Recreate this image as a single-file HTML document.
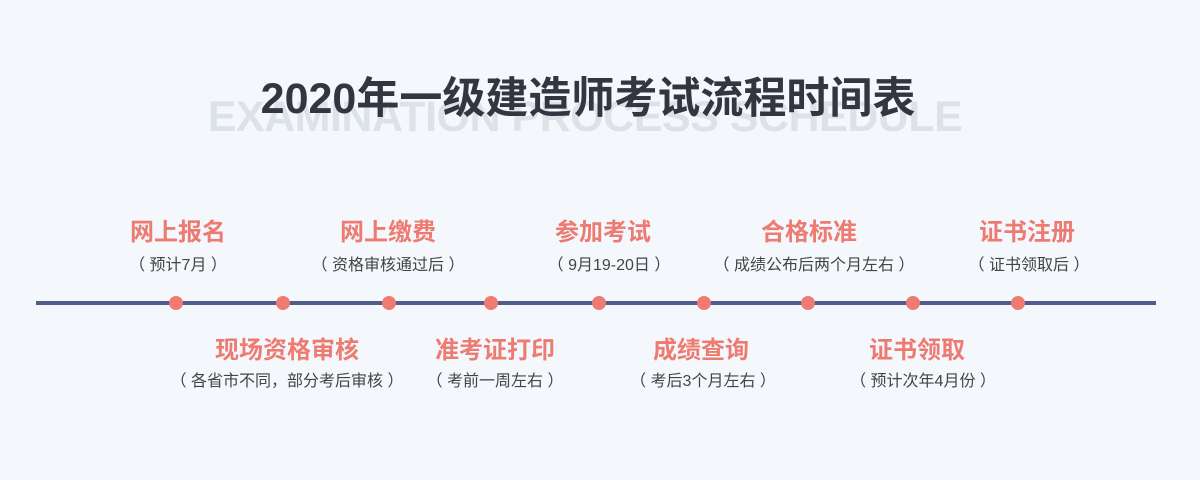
<!DOCTYPE html>
<html><head><meta charset="utf-8"><style>
body{margin:0;width:1200px;height:480px;background:#f4f8fd;position:relative;overflow:hidden;font-family:"Liberation Sans","Noto Sans CJK SC",sans-serif}
.c{position:absolute;transform:translateX(-50%);white-space:nowrap;line-height:1}
.ghost{left:585px;top:96px;font-size:43px;font-weight:bold;color:#dde2e9;letter-spacing:-0.5px}
.title{left:588px;top:78px;font-size:43px;font-weight:bold;color:#333640}
.h{font-size:24px;font-weight:bold;color:#ee7b71}
.s{font-size:16px;color:#444}
.line{position:absolute;left:36px;top:301px;width:1120px;height:4px;background:#525c8b}
.dot{position:absolute;top:296px;width:14px;height:14px;border-radius:50%;background:#ee7b71;margin-left:-7px}
</style></head><body>
<div class="c ghost">EXAMINATION PROCESS SCHEDULE</div>
<div class="c title">2020年一级建造师考试流程时间表</div>
<div class="line"></div>
<div class="dot" style="left:176px"></div>
<div class="dot" style="left:283px"></div>
<div class="dot" style="left:389px"></div>
<div class="dot" style="left:491px"></div>
<div class="dot" style="left:599px"></div>
<div class="dot" style="left:704px"></div>
<div class="dot" style="left:808px"></div>
<div class="dot" style="left:913px"></div>
<div class="dot" style="left:1018px"></div>

<div class="c h" style="left:178px;top:221px">网上报名</div>
<div class="c s" style="left:178px;top:258px">（ 预计7月 ）</div>
<div class="c h" style="left:388px;top:221px">网上缴费</div>
<div class="c s" style="left:388px;top:258px">（ 资格审核通过后 ）</div>
<div class="c h" style="left:603px;top:221px">参加考试</div>
<div class="c s" style="left:609px;top:258px">（ 9月19-20日 ）</div>
<div class="c h" style="left:809px;top:221px">合格标准</div>
<div class="c s" style="left:814px;top:258px">（ 成绩公布后两个月左右 ）</div>
<div class="c h" style="left:1027px;top:221px">证书注册</div>
<div class="c s" style="left:1029px;top:258px">（ 证书领取后 ）</div>

<div class="c h" style="left:287px;top:339px">现场资格审核</div>
<div class="c s" style="left:287px;top:374px">（ 各省市不同，部分考后审核 ）</div>
<div class="c h" style="left:495px;top:339px">准考证打印</div>
<div class="c s" style="left:495px;top:374px">（ 考前一周左右 ）</div>
<div class="c h" style="left:701px;top:339px">成绩查询</div>
<div class="c s" style="left:703px;top:374px">（ 考后3个月左右 ）</div>
<div class="c h" style="left:917px;top:339px">证书领取</div>
<div class="c s" style="left:923px;top:374px">（ 预计次年4月份 ）</div>
</body></html>
